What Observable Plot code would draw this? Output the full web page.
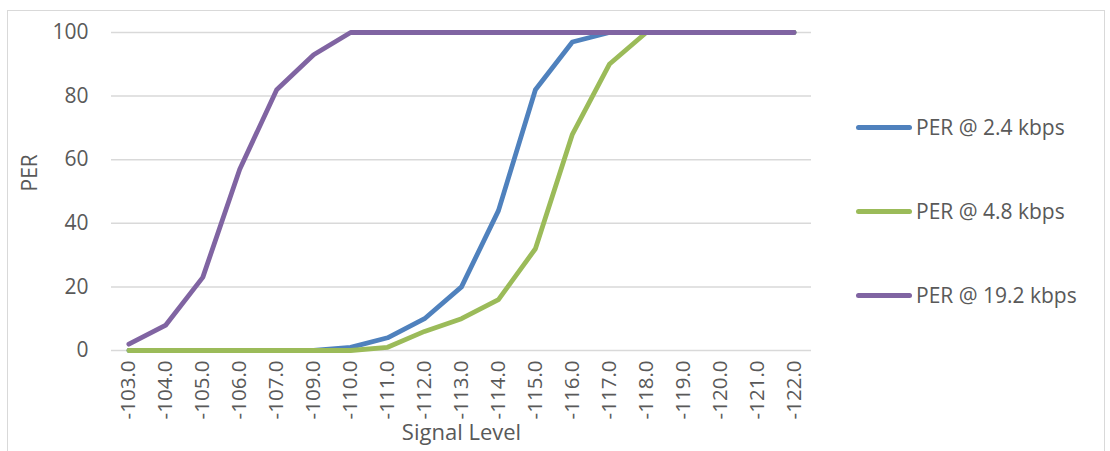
<!DOCTYPE html>
<html>
<head>
<meta charset="utf-8">
<script src="https://cdn.jsdelivr.net/npm/d3@7"></script>
<script src="https://cdn.jsdelivr.net/npm/@observablehq/plot@0.6"></script>
<style>
  html, body { margin: 0; padding: 0; background: #fff; }
  #wrap { position: relative; width: 1110px; height: 451px; overflow: hidden; font-family: "Open Sans", sans-serif; }
  #frame { position: absolute; left: 7px; top: 10px; width: 1098px; height: 460px; border: 1.5px solid #d9d9d9; box-sizing: border-box; }
  #chart { position: absolute; left: 0; top: 0; }
  #legend { position: absolute; left: 856px; top: 0; }
  .item { position: absolute; left: 0; display: flex; align-items: center; white-space: nowrap; color: #595959; font-size: 21px; }
  .swatch { width: 56px; height: 5px; border-radius: 3px; margin-right: 4px; }
</style>
</head>
<body>
<div id="wrap">
  <div id="frame"></div>
  <div id="chart"></div>
  <div id="legend"></div>
</div>
<script>
const levels = ["-103.0","-104.0","-105.0","-106.0","-107.0","-109.0","-110.0","-111.0","-112.0","-113.0","-114.0","-115.0","-116.0","-117.0","-118.0","-119.0","-120.0","-121.0","-122.0"];
const per24  = [0,0,0,0,0,0,1,4,10,20,44,82,97,100,100,100,100,100,100];
const per48  = [0,0,0,0,0,0,0,1,6,10,16,32,68,90,100,100,100,100,100];
const per192 = [2,8,23,57,82,93,100,100,100,100,100,100,100,100,100,100,100,100,100];
const seriesNames = ["PER @ 2.4 kbps","PER @ 4.8 kbps","PER @ 19.2 kbps"];
const seriesColors = ["#4f81bd","#9bbb59","#8064a2"];
const yTicks = [0,20,40,60,80,100];

const seriesValues = [per24, per48, per192];
const rows = [];
seriesValues.forEach((vals, si) => {
  vals.forEach((v, i) => rows.push({level: levels[i], per: v, series: seriesNames[si]}));
});

const chart = Plot.plot({
  width: 1110,
  height: 451,
  marginTop: 32,
  marginBottom: 101,
  marginLeft: 111,
  marginRight: 299,
  style: {fontFamily: "Open Sans, sans-serif", color: "#595959", background: "transparent"},
  x: {type: "point", domain: levels, padding: 0.47, round: false, label: null},
  y: {domain: [0, 100], label: null},
  color: {domain: seriesNames, range: seriesColors},
  marks: [
    Plot.ruleY(yTicks, {stroke: "#d9d9d9", strokeWidth: 1.5}),
    Plot.axisY({ticks: yTicks, tickSize: 0, tickPadding: 23, fontSize: 21, label: null}),
    Plot.axisX({tickSize: 0, tickPadding: 10, tickRotate: -90, fontSize: 20.5, label: null}),
    Plot.line(rows, {x: "level", y: "per", z: "series", stroke: "series", strokeWidth: 4.8, strokeLinejoin: "round"}),
    Plot.text(["PER"], {frameAnchor: "left", dx: -81, rotate: -90, fontSize: 21, fill: "#595959"}),
    Plot.text(["Signal Level"], {frameAnchor: "bottom", dy: 89, fontSize: 22, fill: "#595959"})
  ]
});
document.getElementById("chart").appendChild(chart);

const legend = document.getElementById("legend");
const legendY = [127, 211, 295];
seriesNames.forEach((name, i) => {
  const item = document.createElement("div");
  item.className = "item";
  item.style.top = (legendY[i] - 15) + "px";
  item.style.height = "30px";
  const sw = document.createElement("div");
  sw.className = "swatch";
  sw.style.background = seriesColors[i];
  const label = document.createElement("span");
  label.textContent = name;
  item.appendChild(sw);
  item.appendChild(label);
  legend.appendChild(item);
});
</script>
</body>
</html>
